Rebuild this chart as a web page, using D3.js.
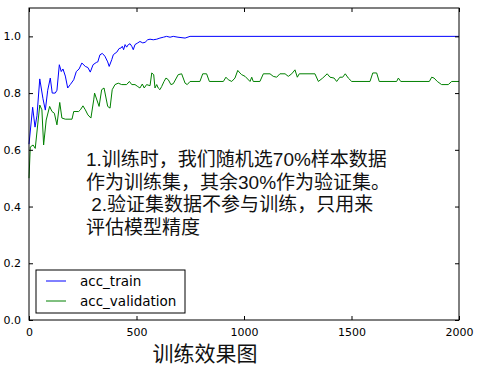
<!DOCTYPE html>
<html>
<head>
<meta charset="utf-8">
<script src="https://cdn.jsdelivr.net/npm/d3@7"></script>
<style>
  body { margin: 0; background: #fff; }
  svg { display: block; }
</style>
</head>
<body>
<div id="chart"></div>
<script>
// training steps / accuracy
const trainSteps = [0, 17, 28, 37, 50, 65, 76, 87, 99, 108, 122, 130, 141, 150, 158, 169, 180, 192, 208, 220, 233, 246, 262, 274, 285, 298, 313,
  320, 330, 341, 353, 366, 373, 385, 392, 400, 408, 419, 428, 434, 440, 447, 454, 462, 470, 478, 485, 493, 506, 516, 529, 540, 552, 563,
  578, 594, 609, 625, 640, 656, 671, 693, 726, 749, 2000];
const trainAcc = [0.62, 0.75, 0.68, 0.72, 0.85, 0.78, 0.74, 0.81, 0.853, 0.80, 0.80, 0.81, 0.90, 0.876, 0.885, 0.86, 0.818, 0.83, 0.847, 0.876, 0.885, 0.906, 0.894, 0.89, 0.874, 0.90, 0.908,
  0.91, 0.935, 0.94, 0.93, 0.91, 0.894, 0.918, 0.935, 0.94, 0.944, 0.957, 0.959, 0.965, 0.953, 0.971, 0.962, 0.971, 0.974, 0.965, 0.953, 0.971, 0.977, 0.982, 0.977, 0.979, 0.988, 0.99,
  0.988, 0.99, 0.994, 0.997, 1.0, 0.997, 1.0, 0.997, 0.994, 1.0, 1.0];

const valSteps = [0, 6, 19, 29, 50, 60, 68, 80, 96, 107, 118, 130, 143, 153, 169, 200, 208, 231, 239, 251, 262, 274, 288, 301,
  305, 326, 338, 349, 366, 377, 387, 400, 415, 431, 454, 467, 478, 493, 506, 516, 527, 536, 547, 563, 571, 580, 586, 594, 601, 609,
  617, 628, 637, 648, 660, 671, 694, 710, 726, 736, 749, 795, 808, 826, 839, 904, 916, 927, 943, 958, 971, 981, 989, 1005, 1028,
  1036, 1043, 1074, 1090, 1121, 1136, 1152, 1167, 1191, 1206, 1222, 1237, 1248, 1257, 1330, 1346, 1366, 1387, 1400, 1419, 1431,
  1446, 1459, 1471, 1485, 1501, 1586, 1599, 1617, 1629, 1710, 1718, 1729, 1862, 1873, 1884, 1899, 1919, 1950, 1966, 2000];
const valAcc = [0.5, 0.61, 0.617, 0.605, 0.758, 0.741, 0.617, 0.705, 0.753, 0.735, 0.729, 0.688, 0.767, 0.712, 0.708, 0.708, 0.735, 0.735, 0.741, 0.755, 0.741, 0.723, 0.712, 0.776,
  0.80, 0.753, 0.812, 0.818, 0.753, 0.747, 0.812, 0.83, 0.835, 0.83, 0.83, 0.841, 0.83, 0.83, 0.823, 0.818, 0.832, 0.818, 0.83, 0.826, 0.871, 0.865, 0.818, 0.83, 0.818, 0.812,
  0.823, 0.841, 0.853, 0.847, 0.83, 0.833, 0.865, 0.868, 0.835, 0.83, 0.841, 0.841, 0.868, 0.868, 0.841, 0.841, 0.856, 0.847, 0.841, 0.853, 0.88, 0.871, 0.865, 0.859, 0.841,
  0.856, 0.841, 0.841, 0.868, 0.868, 0.859, 0.856, 0.868, 0.868, 0.859, 0.868, 0.882, 0.856, 0.868, 0.868, 0.841, 0.853, 0.868, 0.856, 0.853, 0.841,
  0.856, 0.856, 0.868, 0.853, 0.841, 0.841, 0.871, 0.871, 0.841, 0.841, 0.853, 0.841, 0.841, 0.856, 0.853, 0.841, 0.83, 0.83, 0.841, 0.841];

const xTicks = [0, 500, 1000, 1500, 2000];
const yTicks = [0.0, 0.2, 0.4, 0.6, 0.8, 1.0];
const seriesNames = ["acc_train", "acc_validation"];
const seriesColors = ["#0000ff", "#008000"];
const noteLines = ["1.训练时，我们随机选70%样本数据", "作为训练集，其余30%作为验证集。", " 2.验证集数据不参与训练，只用来", "评估模型精度"];
const title = "训练效果图";

const width = 478, height = 371;
const margin = {top: 8, right: 19, bottom: 51, left: 29};

const svg = d3.select("#chart").append("svg")
    .attr("width", width)
    .attr("height", height);

const x = d3.scaleLinear()
    .domain([0, 2000])
    .range([margin.left, width - margin.right]);

const y = d3.scaleLinear()
    .domain([0, 1.1])
    .range([height - margin.bottom, margin.top]);

const tickFont = "DejaVu Sans, sans-serif";
const cjkFont = "'Liberation Sans', 'Noto Sans CJK SC', sans-serif";

// lines
const line = d3.line()
    .x(d => x(d[0]))
    .y(d => y(d[1]));

const series = [
    d3.zip(trainSteps, trainAcc),
    d3.zip(valSteps, valAcc)
];

svg.append("g")
    .selectAll("path")
    .data(series)
    .enter().append("path")
        .attr("d", line)
        .attr("fill", "none")
        .attr("stroke", (d, i) => seriesColors[i])
        .attr("stroke-width", 1);

// axes, ticks pointing inward on all four sides
const xAxis = d3.axisBottom(x).tickValues(xTicks).tickSize(-4).tickPadding(8).tickFormat(d3.format("d"));
const yAxis = d3.axisLeft(y).tickValues(yTicks).tickSize(-4).tickPadding(8).tickFormat(d3.format(".1f"));

svg.append("g")
    .attr("transform", `translate(0,${height - margin.bottom})`)
    .call(xAxis)
    .call(g => g.select(".domain").remove())
    .selectAll("text")
        .style("font", `11px ${tickFont}`)
        .attr("fill", "#000");

svg.append("g")
    .attr("transform", `translate(${margin.left},0)`)
    .call(yAxis)
    .call(g => g.select(".domain").remove())
    .selectAll("text")
        .style("font", `11px ${tickFont}`)
        .attr("fill", "#000");

svg.append("g")
    .attr("transform", `translate(0,${margin.top})`)
    .call(d3.axisTop(x).tickValues(xTicks).tickSize(-4).tickFormat(""))
    .call(g => g.select(".domain").remove());

svg.append("g")
    .attr("transform", `translate(${width - margin.right},0)`)
    .call(d3.axisRight(y).tickValues(yTicks).tickSize(-4).tickFormat(""))
    .call(g => g.select(".domain").remove());

svg.append("rect")
    .attr("x", margin.left)
    .attr("y", margin.top)
    .attr("width", width - margin.left - margin.right)
    .attr("height", height - margin.top - margin.bottom)
    .attr("fill", "none")
    .attr("stroke", "#000")
    .attr("stroke-width", 1);

// legend
const legend = svg.append("g").attr("transform", "translate(36,270)");
legend.append("rect")
    .attr("width", 149)
    .attr("height", 43)
    .attr("fill", "#fff")
    .attr("stroke", "#000")
    .attr("stroke-width", 1);

const entry = legend.selectAll(".entry")
    .data(seriesNames)
    .enter().append("g")
        .attr("class", "entry")
        .attr("transform", (d, i) => `translate(0,${11 + i * 20})`);

entry.append("line")
    .attr("x1", 10).attr("x2", 30)
    .attr("stroke", (d, i) => seriesColors[i])
    .attr("stroke-width", 1);

entry.append("text")
    .text(d => d)
    .attr("x", 44)
    .attr("dy", "0.35em")
    .style("font", `13.5px ${tickFont}`);

// note text, one block with a tspan per line
svg.append("text")
    .attr("y", 166)
    .attr("xml:space", "preserve")
    .style("white-space", "pre")
    .style("font", `19px ${cjkFont}`)
    .attr("fill", "#111")
    .selectAll("tspan")
    .data(noteLines)
    .enter().append("tspan")
        .attr("x", 86)
        .attr("dy", (d, i) => i === 0 ? 0 : 22.5)
        .text(d => d);

// title
svg.append("text")
    .attr("x", 205)
    .attr("y", 361)
    .attr("text-anchor", "middle")
    .style("font", `21px ${cjkFont}`)
    .attr("fill", "#111")
    .text(title);
</script>
</body>
</html>
